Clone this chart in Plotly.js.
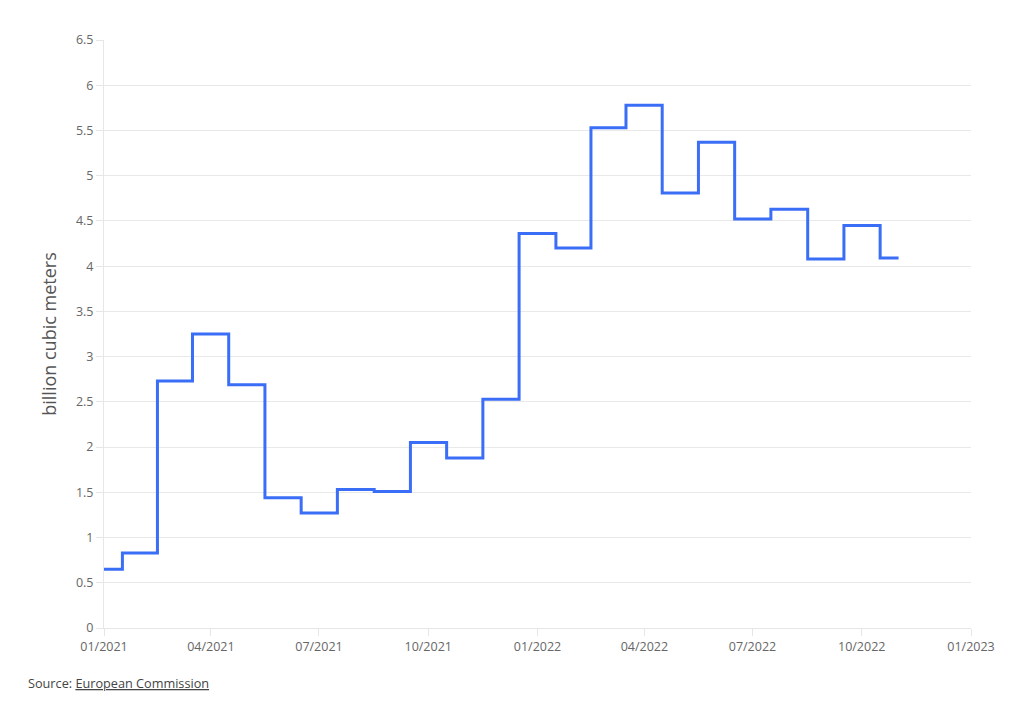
<!DOCTYPE html>
<html>
<head>
<meta charset="utf-8">
<script src="https://cdn.plot.ly/plotly-3.0.1.min.js"></script>
<style>html,body{margin:0;padding:0;background:#fff;}#chart{width:1020px;height:704px;}</style>
</head>
<body>
<div id="chart"></div>
<script>
const months = ["2021-01-01","2021-02-01","2021-03-01","2021-04-01","2021-05-01","2021-06-01","2021-07-01","2021-08-01","2021-09-01","2021-10-01","2021-11-01","2021-12-01","2022-01-01","2022-02-01","2022-03-01","2022-04-01","2022-05-01","2022-06-01","2022-07-01","2022-08-01","2022-09-01","2022-10-01","2022-11-01"];
const volumes = [0.65,0.83,2.73,3.25,2.69,1.44,1.27,1.53,1.51,2.05,1.88,2.53,4.36,4.20,5.53,5.78,4.81,5.37,4.52,4.63,4.08,4.45,4.09];
const yTitle = "billion cubic meters";
const sourceText = 'Source: <span style="text-decoration:underline">European Commission</span>';

const trace = {
  x: months, y: volumes, type: "scatter", mode: "lines",
  line: {shape: "hvh", color: "#3b6ef6", width: 3},
  hoverinfo: "x+y"
};
const layout = {
  width: 1020, height: 704,
  margin: {l: 104, r: 49, t: 40, b: 76},
  paper_bgcolor: "#fff", plot_bgcolor: "#fff",
  font: {family: "Open Sans, sans-serif", color: "#666", size: 12.5},
  showlegend: false,
  xaxis: {
    type: "date", range: ["2021-01-01", "2023-01-01"],
    tick0: "2021-01-01", dtick: "M3", tickformat: "%m/%Y",
    showgrid: false, zeroline: false,
    showline: true, linecolor: "#e6e6e6", linewidth: 1,
    ticks: "outside", ticklen: 7, tickcolor: "#e6e6e6", tickwidth: 1,
    tickfont: {size: 12.5, color: "#666"}
  },
  yaxis: {
    range: [0, 6.5], dtick: 0.5, tick0: 0,
    showgrid: true, gridcolor: "#e9e9e9", gridwidth: 1,
    zeroline: false, showline: true, linecolor: "#e6e6e6", linewidth: 1,
    ticks: "outside", ticklen: 7, tickcolor: "#e6e6e6",
    tickfont: {size: 12.5, color: "#666"},
    title: {text: yTitle, font: {size: 18, color: "#555"}, standoff: 14}
  },
  annotations: [{
    xref: "paper", yref: "paper", x: -0.09, y: -0.094,
    xanchor: "left", yanchor: "middle", showarrow: false,
    text: sourceText, font: {size: 12.7, color: "#444"}
  }]
};
Plotly.newPlot("chart", [trace], layout, {displayModeBar: false, staticPlot: true});
</script>
</body>
</html>
